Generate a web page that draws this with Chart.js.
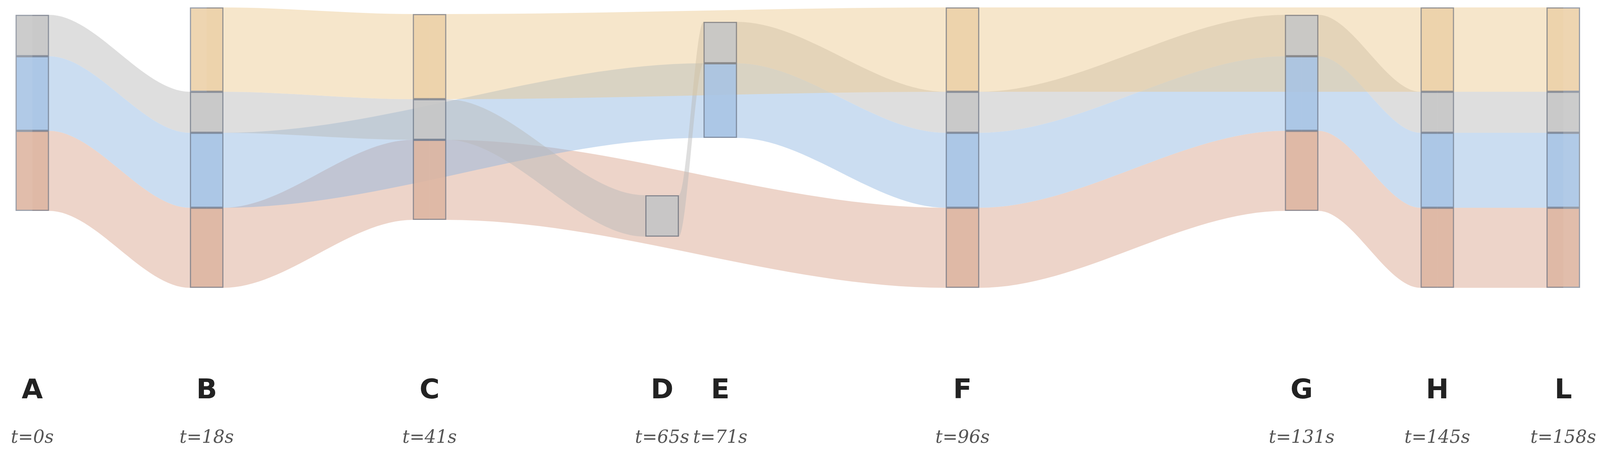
<!DOCTYPE html>
<html><head><meta charset="utf-8">
<script src="https://cdn.jsdelivr.net/npm/chart.js@4/dist/chart.umd.min.js"></script>
<style>html,body{margin:0;padding:0;background:#fff;overflow:hidden}#wrap{width:100vw;height:100vh;position:relative}</style>
</head><body><div id="wrap"><canvas id="c"></canvas></div>
<script>
// Nodes
const nodeNames = ['A','B','C','D','E','F','G','H','L'];
const nodeTimes = [0,18,41,65,71,96,131,145,158];
const timeLabels = ['t=0s','t=18s','t=41s','t=65s','t=71s','t=96s','t=131s','t=145s','t=158s'];
// Block [top,bottom] per node, per series (null = absent)
const orangeBlocks = [null,[19,235],[36,254],null,null,[19,235],null,[19,235],[19,235]];
const greyBlocks   = [[38,144],[235,340],[254,358],[500,606],[56,162],[235,340],[38,144],[235,340],[235,340]];
const blueBlocks   = [[144,335],[340,532],null,null,[162,353],[340,532],[144,335],[340,532],[340,532]];
const salmonBlocks = [[335,540],[532,737],[358,563],null,null,[532,737],[335,540],[532,737],[532,737]];
// Links [from,to]
const orangeLinks = [['B','C'],['C','F'],['F','H'],['H','L']];
const greyLinks   = [['A','B'],['B','C'],['C','D'],['D','E'],['E','F'],['F','G'],['G','H'],['H','L']];
const blueLinks   = [['A','B'],['B','E'],['E','F'],['F','G'],['G','H'],['H','L']];
const salmonLinks = [['A','B'],['B','C'],['C','F'],['F','G'],['G','H'],['H','L']];

const HW = 1.72; // node half-width in time units
const series = [
  {blocks:orangeBlocks, links:orangeLinks, flow:'rgba(236,200,140,0.45)', block:'rgba(236,208,168,0.9)'},
  {blocks:greyBlocks,   links:greyLinks,   flow:'rgba(185,185,185,0.48)', block:'rgba(198,198,198,0.9)'},
  {blocks:blueBlocks,   links:blueLinks,   flow:'rgba(140,180,225,0.45)', block:'rgba(168,196,228,0.9)'},
  {blocks:salmonBlocks, links:salmonLinks, flow:'rgba(215,160,135,0.45)', block:'rgba(222,182,162,0.9)'}
];
const idx = n => nodeNames.indexOf(n);
const datasets = [];
series.forEach(s => {
  s.links.forEach(([a,b]) => {
    const ia = idx(a), ib = idx(b);
    const ta = nodeTimes[ia], tb = nodeTimes[ib];
    const A = s.blocks[ia], B = s.blocks[ib];
    const xs = [ta, ta+HW, tb-HW, tb];
    const mk = k => xs.map((x,j) => ({x, y: (j<2 ? A : B)[k]}));
    const common = {type:'line', borderWidth:0, pointRadius:0, cubicInterpolationMode:'monotone', order:2};
    const top = datasets.length;
    datasets.push(Object.assign({data:mk(0), fill:false}, common));
    datasets.push(Object.assign({data:mk(1), fill:{target:top}, backgroundColor:s.flow}, common));
  });
});
const W0 = 4316;
series.forEach(s => {
  datasets.push({
    type:'bar', order:0, grouped:false,
    barThickness: ctx => 90 * ctx.chart.width / W0,
    data: nodeTimes.map((t,i) => s.blocks[i] ? {x:t, y:s.blocks[i]} : null).filter(Boolean),
    backgroundColor:s.block, borderColor:'rgba(70,80,100,0.55)', borderWidth:3, borderSkipped:false
  });
});
const labelPlugin = {
  id:'labels',
  afterDraw(chart){
    const ctx = chart.ctx, xs = chart.scales.x, ys = chart.scales.y;
    const k = chart.height / 1160;
    ctx.save(); ctx.textAlign='center'; ctx.textBaseline='middle';
    nodeNames.forEach((n,i) => {
      const px = xs.getPixelForValue(nodeTimes[i]);
      ctx.fillStyle='#222'; ctx.font='bold '+(70*k)+'px "DejaVu Sans"';
      ctx.fillText(n, px, ys.getPixelForValue(1002));
      ctx.fillStyle='#555'; ctx.font='italic '+(46*k)+'px "DejaVu Serif"';
      ctx.fillText(timeLabels[i], px, ys.getPixelForValue(1122));
    });
    ctx.restore();
  }
};
new Chart(document.getElementById('c'), {
  data:{datasets},
  options:{
    responsive:true, maintainAspectRatio:false, animation:false,
    layout:{padding:0},
    plugins:{legend:{display:false}, tooltip:{enabled:false}},
    scales:{
      x:{type:'linear', min:-3.33, max:161.79, display:false, offset:false},
      y:{type:'linear', min:0, max:1160, reverse:true, display:false}
    }
  },
  plugins:[labelPlugin]
});
</script></body></html>
